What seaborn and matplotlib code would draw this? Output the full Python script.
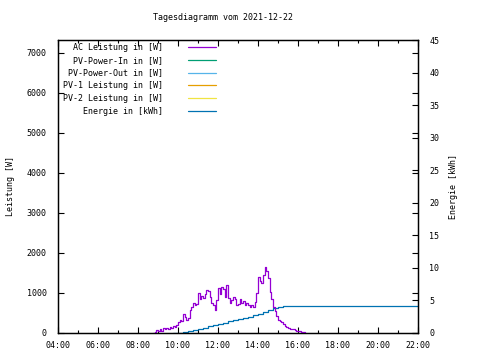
import pandas as pd
import numpy as np
import seaborn as sns
import matplotlib.pyplot as plt
import matplotlib.dates as mdates

tag = "2021-12-22"

ac_zeit = ["08:45", "08:50", "08:55", "09:00", "09:05", "09:10", "09:15", "09:20", "09:25", "09:30",
           "09:35", "09:40", "09:45", "09:50", "09:55", "10:00", "10:05", "10:10", "10:15", "10:20",
           "10:25", "10:30", "10:35", "10:40", "10:45", "10:50", "10:55", "11:00", "11:05", "11:10",
           "11:15", "11:20", "11:25", "11:30", "11:35", "11:40", "11:45", "11:50", "11:55", "12:00",
           "12:05", "12:10", "12:15", "12:20", "12:25", "12:30", "12:35", "12:40", "12:45", "12:50",
           "12:55", "13:00", "13:05", "13:10", "13:15", "13:20", "13:25", "13:30", "13:35", "13:40",
           "13:45", "13:50", "13:55", "14:00", "14:05", "14:10", "14:15", "14:20", "14:25", "14:30",
           "14:35", "14:40", "14:45", "14:50", "14:55", "15:00", "15:05", "15:10", "15:15", "15:20",
           "15:25", "15:30", "15:35", "15:40", "15:45", "15:50", "15:55", "16:00", "16:05", "16:10",
           "16:15", "16:20"]
ac_leistung = [0, 30, 80, 40, 110, 60, 120, 90, 130, 100,
               150, 120, 180, 140, 200, 270, 330, 300, 480, 400,
               330, 380, 580, 640, 760, 690, 720, 1000, 850, 930,
               870, 980, 1080, 1040, 900, 760, 700, 580, 820, 1130,
               980, 1160, 1090, 900, 1200, 880, 760, 820, 900, 850,
               700, 720, 860, 760, 810, 690, 760, 700, 650, 700,
               660, 780, 1000, 1400, 1300, 1250, 1450, 1650, 1550, 1380,
               1030, 850, 650, 560, 420, 330, 300, 270, 230, 180,
               160, 120, 110, 100, 90, 80, 60, 55, 40, 35,
               15, 0]

energie_zeit = ["09:45", "10:00", "10:15", "10:30", "10:45", "11:00", "11:15", "11:30", "11:45", "12:00",
                "12:15", "12:30", "12:45", "13:00", "13:15", "13:30", "13:45", "14:00", "14:15", "14:30",
                "14:45", "15:00", "15:15", "22:00"]
energie_kwh = [0.0, 0.05, 0.15, 0.3, 0.45, 0.6, 0.8, 1.0, 1.2, 1.4,
               1.6, 1.8, 1.95, 2.1, 2.3, 2.5, 2.7, 2.9, 3.25, 3.6,
               3.9, 3.95, 4.1, 4.1]

leer_reihen = ["PV-Power-In in [W]", "PV-Power-Out in [W]", "PV-1 Leistung in [W]", "PV-2 Leistung in [W]"]
leer_farben = ["#009e73", "#56b4e9", "#e69f00", "#f0e442"]

ac = pd.DataFrame({"zeit": pd.to_datetime([tag + " " + t for t in ac_zeit]), "leistung": ac_leistung})
en = pd.DataFrame({"zeit": pd.to_datetime([tag + " " + t for t in energie_zeit]), "energie": energie_kwh})

sns.set_style('ticks', {'axes.edgecolor': 'black', 'xtick.color': 'black', 'ytick.color': 'black',
                        'text.color': 'black', 'axes.labelcolor': 'black'})
plt.rcParams['font.family'] = ['DejaVu Sans Mono']
plt.rcParams['font.size'] = 6

fig = plt.figure(figsize=(4.8, 3.6), dpi=100)
ax = fig.add_axes([58/480, 27/360, 360/480, 293/360])
ax2 = ax.twinx()

sns.lineplot(data=ac, x="zeit", y="leistung", ax=ax, color="#9400d3", lw=0.9,
             drawstyle="steps-post", label="AC Leistung in [W]")
for name, c in zip(leer_reihen, leer_farben):
    ax.plot([], [], color=c, lw=0.9, label=name)
sns.lineplot(data=en, x="zeit", y="energie", ax=ax2, color="#0072b2", lw=0.9,
             drawstyle="steps-post", label="Energie in [kWh]")

ax.set_zorder(ax2.get_zorder() + 1)
ax.patch.set_visible(False)

ax.set_xlim(pd.Timestamp(tag + " 04:00"), pd.Timestamp(tag + " 22:00"))
ax.set_ylim(0, 7325)
ax2.set_ylim(0, 45)
ax.set_yticks(np.arange(0, 7001, 1000))
ax2.set_yticks(np.arange(0, 46, 5))
ax.xaxis.set_major_locator(mdates.HourLocator(interval=2))
ax.xaxis.set_minor_locator(mdates.HourLocator())
ax.xaxis.set_major_formatter(mdates.DateFormatter("%H:%M"))

ax.tick_params(axis='x', which='both', direction='in', top=True, bottom=True, pad=6, labelsize=6)
ax.tick_params(axis='x', which='major', length=4, width=0.8)
ax.tick_params(axis='x', which='minor', length=2, width=0.8)
ax.tick_params(axis='y', direction='in', left=True, right=True, labelleft=True, labelright=False,
               length=4, width=0.8, pad=8, labelsize=6)
ax2.tick_params(axis='y', direction='in', length=4, width=0.8, pad=8, labelsize=6)

ax.set_xlabel("")
ax.set_ylabel("Leistung [W]", labelpad=8.5)
ax2.set_ylabel("Energie [kWh]", labelpad=7)

for a in (ax, ax2):
    for s in a.spines.values():
        s.set_linewidth(0.9)
        s.set_color("black")

h1, l1 = ax.get_legend_handles_labels()
h2, l2 = ax2.get_legend_handles_labels()
if ax2.get_legend() is not None:
    ax2.get_legend().remove()
ax.legend(h1 + h2, l1 + l2, loc='upper left', bbox_to_anchor=(0.014, 0.99), frameon=False,
          markerfirst=False, handlelength=3.4, handletextpad=3.0, labelspacing=0.45,
          borderpad=0, borderaxespad=0, fontsize=6)

fig.text(0.465, 1 - 17/360, "Tagesdiagramm vom " + tag, ha='center', va='center', fontsize=6)

fig.savefig("out.png", dpi=100)
